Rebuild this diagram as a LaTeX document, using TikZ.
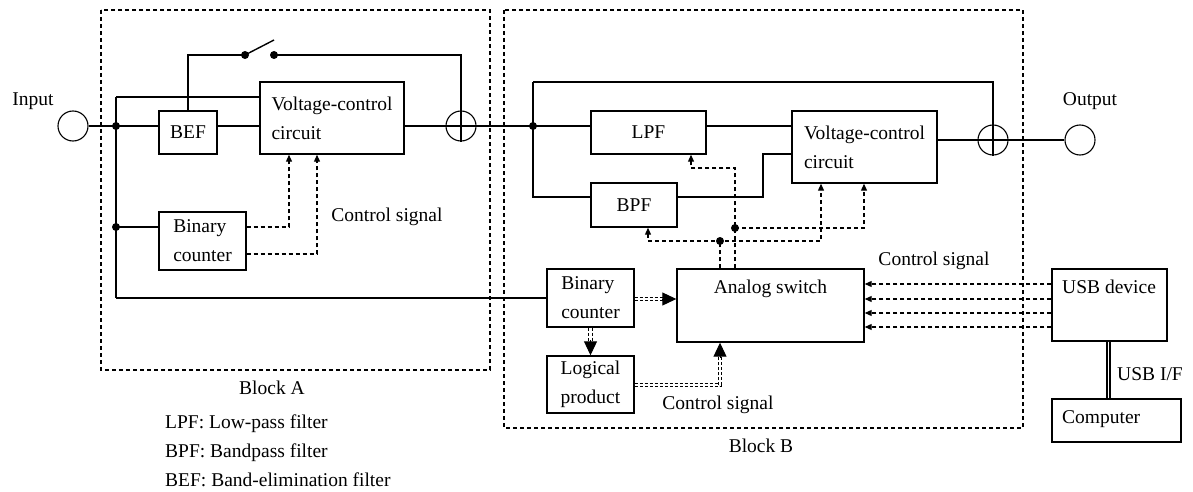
\documentclass[tikz,border=0pt]{standalone}
\usepackage{fontspec}
\setmainfont{Liberation Serif}
\usetikzlibrary{arrows.meta,calc}
\begin{document}
\begin{tikzpicture}[x=1pt,y=-1pt,
  every node/.style={font=\fontsize{19.5}{29}\selectfont},
  box/.style={draw, line width=1.4pt, inner sep=0pt, align=left},
  wire/.style={line width=1.4pt},
  ctl/.style={line width=1.1pt, dash pattern=on 4pt off 3pt},
  stip/.tip={Triangle[length=7pt,width=6pt]},
  ctlarrow/.style={ctl, -stip},
  blockline/.style={line width=1.1pt, dash pattern=on 4pt off 3pt},
  dbl/.style={line width=1.3pt, double=white, double distance=2.2pt, dash pattern=on 3pt off 2pt},
  bigtip/.style={line width=1pt, -{Triangle[length=14pt,width=13pt]}},
  dot/.style={circle, fill, inner sep=0pt, minimum size=8pt},
  term/.style={circle, draw, line width=1.1pt, minimum size=30pt, inner sep=0pt},
  lbl/.style={anchor=base, inner sep=0pt}]
\useasboundingbox (0,0) rectangle (1193,492);
\fill[white] (0,0) rectangle (1193,492);

% blocks
\draw[blockline] (101,10) rectangle (490,370);
\draw[blockline] (504,10) rectangle (1023,428);

% ---------- Block A ----------
\node[term] (in) at (73,126) {};
\node[lbl] (inlbl) at (33,106) {Input};
\node[box, minimum width=58pt, minimum height=43pt] (bef) at (188,132.5) {BEF};
\node[box, minimum width=144pt, minimum height=72pt] (vccA) at (332,118) {Voltage-control\\circuit};
\node[box, minimum width=87pt, minimum height=58pt] (bcA) at (202.5,241) {Binary\\counter};
\node[term] (sA) at (461,126) {};
\coordinate (j0) at (116,97);
\coordinate (j3) at (116,298);

\draw[wire] (in.east) -- (bef.west |- in.east);
\draw[wire] (bef.east |- in.east) -- (vccA.west |- in.east);
\draw[wire] (vccA.east |- in.east) -- (sA.west);
\draw[wire] (sA.west) -- (sA.east);
\draw[wire] (sA.north) -- (sA.south);
\draw[wire] (j0) -- (j3);
\draw[wire] (j0) -- (vccA.west |- j0);
\node[dot] (j1) at (116,126) {};
\node[dot] (j2) at (116,227) {};
\draw[wire] (j2.center) -- (bcA.west |- j2);

% switch
\node[dot] (sw1) at (245,55) {};
\node[dot] (sw2) at (274,55) {};
\coordinate (blade) at (274,40);
\draw[wire] (bef.north) -- (bef.north |- sw1) -- (sw1.center);
\draw[wire] (sw1.center) -- (blade);
\draw[wire] (sw2.center) -- (sA.north |- sw2) -- (sA.north);

% control A
\draw[ctlarrow] (bcA.east |- 0,227) -| (289,0 |- vccA.south);
\draw[ctlarrow] (bcA.east |- 0,254) -| (317,0 |- vccA.south);
\node[lbl] (csA) at (387,221) {Control signal};
\node[lbl] (blkA) at (272,394) {Block A};

% ---------- Block B ----------
\node[box, minimum width=115pt, minimum height=43pt] (lpf) at (648.5,132.5) {LPF};
\node[box, minimum width=86pt, minimum height=44pt] (bpf) at (634,205) {BPF};
\node[box, minimum width=145pt, minimum height=72pt] (vccB) at (864.5,147) {Voltage-control\\circuit};
\node[box, minimum width=187pt, minimum height=73pt] (as) at (770.5,305.5) {};
\node[lbl] (asT) at (770.5,293) {Analog switch};
\node[box, minimum width=87pt, minimum height=58pt] (bcB) at (590.5,298) {Binary\\counter};
\node[box, minimum width=87pt, minimum height=57pt] (lp) at (590.5,384.5) {Logical\\product};
\node[term] (sB) at (993,140) {};
\node[term] (out) at (1080,140) {};
\node[lbl] (outlbl) at (1090,106) {Output};
\coordinate (kT) at (533,82);
\coordinate (kB) at (533,197);

\draw[wire] (sA.east) -- (lpf.west |- sA.east);
\draw[wire] (lpf.east |- 0,126) -- (vccB.west |- 0,126);
\draw[wire] (kT) -- (kB) -- (bpf.west |- kB);
\draw[wire] (kT) -| (sB.north);
\draw[wire] (bpf.east |- kB) -| (763,154) -- (vccB.west |- 0,154);
\draw[wire] (vccB.east |- sB) -- (sB.west);
\draw[wire] (sB.west) -- (sB.east);
\draw[wire] (sB.north) -- (sB.south);
\draw[wire] (sB.east) -- (out.west);
\node[dot] (jB) at (533,126) {};

% bottom line from block A
\draw[wire] (j3) -- (bcB.west |- j3);

% control B
\draw[ctlarrow] (735,0 |- as.north) -- (735,168) -| (691,0 |- lpf.south);
\node[dot] (d1) at (735,228) {};
\draw[ctlarrow] (d1.center) -| (864,0 |- vccB.south);
\node[dot] (d2) at (720,241) {};
\draw[ctl] (720,0 |- as.north) -- (d2.center);
\draw[ctl, stip-stip] (648,0 |- bpf.south) |- (821,241) -- (821,0 |- vccB.south);

% double dashed arrows
\coordinate (asL) at (as.west |- 0,299);
\draw[dbl] (bcB.east |- asL) -- ([xshift=-12pt]asL);
\draw[bigtip] ([xshift=-14pt]asL) -- (asL);
\draw[dbl] (bcB.south) -- ([yshift=13pt]lp.north);
\draw[bigtip] ([yshift=15pt]lp.north) -- (lp.north);
\coordinate (asB) at (720,0 |- as.south);
\draw[dbl] (lp.east |- 0,385) -| ([yshift=-13pt]asB);
\draw[bigtip] ([yshift=-15pt]asB) -- (asB);

\node[lbl] (csR) at (934,265) {Control signal};
\node[lbl] (csB) at (718,409) {Control signal};
\node[lbl] (blkB) at (761,452) {Block B};

% USB
\node[box, minimum width=115pt, minimum height=72pt] (usb) at (1109.5,305) {};
\node[lbl, anchor=base west] (usbT) at (1062,293) {USB device};
\node[box, minimum width=129pt, minimum height=43pt] (comp) at (1116.5,420.5) {};
\node[lbl, anchor=base west] (compT) at (1062,423) {Computer};
\foreach \yy in {284,299,313,327}
  \draw[ctlarrow] (usb.west |- 0,\yy) -- (as.east |- 0,\yy);
\draw[line width=2pt, double=white, double distance=1pt] (usb.south -| 1108,0) -- (comp.north -| 1108,0);
\node[lbl] (usbif) at (1150,380) {USB I/F};

% legend
\node[lbl, anchor=base west] (lg1) at (165,428) {LPF: Low-pass filter};
\node[lbl, anchor=base west] (lg2) at (165,457) {BPF: Bandpass filter};
\node[lbl, anchor=base west] (lg3) at (165,486) {BEF: Band-elimination filter};
\end{tikzpicture}
\end{document}
